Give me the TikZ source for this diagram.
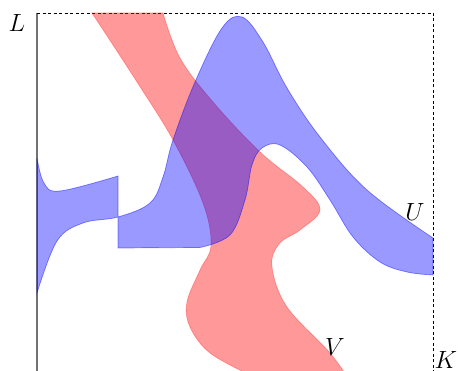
\documentclass[tikz,border=0pt]{standalone}
\usepackage{tikz}
\usetikzlibrary{
    positioning,                      % right=of, below=of, etc.
    calc                              % aritmetica de coordenadas
}
\tikzset{
    axisline/.style={
        draw=black!55, line width=1.3pt
    },
    bound/.style={
        draw=black, line width=0.6pt, dash pattern=on 3pt off 2.5pt
    },
    regionU/.style={
        fill=blue, fill opacity=0.4,
        draw=blue, draw opacity=0.45, line width=0.7pt
    },
    regionV/.style={
        fill=red, fill opacity=0.4,
        draw=red, draw opacity=0.3, line width=0.7pt
    },
    setlabel/.style={
        font=\fontsize{25}{30}\selectfont, inner sep=0pt
    }
}

\begin{document}
\begin{tikzpicture}[x=1pt, y=-1pt]
    \useasboundingbox (0,0) rectangle (458,371);
    % esquinas del marco
    \coordinate (tl) at (37,13);
    \coordinate (tr) at (433,13);
    \coordinate (bl) at (37,380);
    \coordinate (br) at (433,380);
    \draw[axisline] (tl) -- (bl);
    \draw[bound] (tl) -- (tr) -- (br);
    % conjunto V
    \filldraw[regionV] (92,13) -- plot[smooth, tension=0.6] coordinates {
        (163,13) (180,58) (213,102) (260,152) (303,187) (320,210)
        (300,230) (279,244) (272,267) (287,307) (330,353) (352,384)}
        -- plot[smooth, tension=0.6] coordinates {
        (250,375) (210,353) (190,327) (187,302) (200,270) (211,245)
        (203,203) (173,140) (137,82) (92,13)} -- cycle;
    % conjunto U
    \filldraw[regionU] plot[smooth, tension=0.6] coordinates {
        (37,158) (44,183) (60,191) (118,176)}
        -- (118,248) -- plot[smooth, tension=0.6] coordinates {
        (200,247.5) (230,235) (245,200) (252,165) (262,148) (280,145)
        (307,167) (330,200) (353,237) (380,262) (407,272) (433,275)}
        -- plot[smooth, tension=0.6] coordinates {
        (433,238) (367,190) (320,137) (287,88) (263,42) (242,17) (222,28)
        (195,82) (173,140) (163,177) (150,203) (118,217) (83,223) (57,241)
        (37,293)}
        -- cycle;
    % etiquetas
    \node[setlabel] (lbl) at (17,23) {$L$};
    \node[setlabel] (kbl) at (446,360) {$K$};
    \node[setlabel] (ubl) at (415,212) {$U$};
    \node[setlabel] (vbl) at (335,347) {$V$};
\end{tikzpicture}
\end{document}
